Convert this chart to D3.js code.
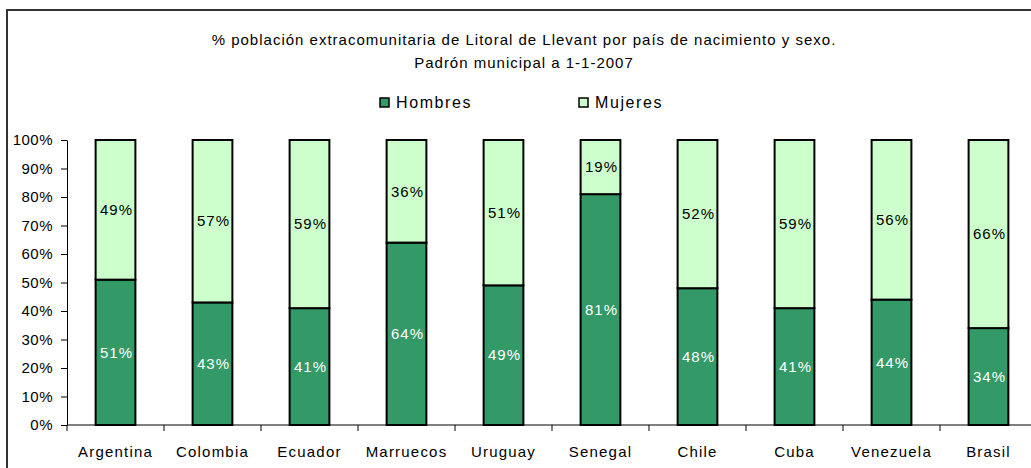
<!DOCTYPE html>
<html>
<head>
<meta charset="utf-8">
<script src="https://cdn.jsdelivr.net/npm/d3@7"></script>
<style>
  body { margin: 0; background: #fff; }
  svg { display: block; font-family: "Liberation Sans", Arial, sans-serif; }
  .axis path, .axis line { stroke: #000; }
  .lbl { font-size: 15px; letter-spacing: 1px; }
  .leg { font-size: 16px; letter-spacing: 1.6px; }
</style>
</head>
<body>
<svg id="chart" width="1031" height="468"></svg>
<script>
"use strict";

// data
const paises = ["Argentina", "Colombia", "Ecuador", "Marruecos", "Uruguay", "Senegal", "Chile", "Cuba", "Venezuela", "Brasil"];
const hombres = [51, 43, 41, 64, 49, 81, 48, 41, 44, 34];
const mujeres = [49, 57, 59, 36, 51, 19, 52, 59, 56, 66];
const yTicks = [0, 10, 20, 30, 40, 50, 60, 70, 80, 90, 100];
const series = ["Hombres", "Mujeres"];
const colores = ["#339966", "#CCFFCC"];

const svg = d3.select("#chart");

// outer frame (goes past the right / bottom edge like the original)
svg.append("rect").attr("x", 7).attr("y", 10).attr("width", 1060).attr("height", 500)
    .attr("fill", "#fff").attr("stroke", "#333").attr("stroke-width", 2);

// title
let title = svg.append("text").attr("text-anchor", "middle").attr("class", "lbl").attr("fill", "#000");
title.append("tspan").attr("x", 524).attr("y", 45).text("% población extracomunitaria de Litoral de Llevant por país de nacimiento y sexo.");
title.append("tspan").attr("x", 524).attr("y", 68).text("Padrón municipal a 1-1-2007");

// legend
let legX = [380, 579];
let legend = svg.selectAll(".legend").data(series).enter().append("g")
    .attr("transform", (d, i) => `translate(${legX[i]},98)`);
legend.append("rect").attr("width", 9).attr("height", 9)
    .attr("fill", (d, i) => colores[i]).attr("stroke", "#000").attr("stroke-width", 1.5);
legend.append("text").attr("class", "leg").attr("x", 16).attr("y", 10).text(d => d);

// scales
let mLeft = 67, mTop = 140, mBottom = 425;
let x = d3.scaleBand().domain(paises).range([mLeft, mLeft + 970]).paddingInner(0.59).paddingOuter(0.295);
let y = d3.scaleLinear().domain([0, 100]).range([mBottom, mTop]);
let step = x.step();

let data = paises.map((p, i) => ({pais: p, h: hombres[i], m: mujeres[i]}));

// bars
let g = svg.selectAll(".bar").data(data).enter().append("g").attr("class", "bar");
g.append("rect").attr("x", d => x(d.pais)).attr("width", x.bandwidth())
    .attr("y", d => y(d.h)).attr("height", d => y(0) - y(d.h))
    .attr("fill", colores[0]).attr("stroke", "#000").attr("stroke-width", 2);
g.append("rect").attr("x", d => x(d.pais)).attr("width", x.bandwidth())
    .attr("y", d => y(d.h + d.m)).attr("height", d => y(d.h) - y(d.h + d.m))
    .attr("fill", colores[1]).attr("stroke", "#000").attr("stroke-width", 2);

// value labels
g.append("text").attr("class", "lbl").attr("text-anchor", "middle").attr("fill", "#fff")
    .attr("x", d => x(d.pais) + x.bandwidth() / 2 + 1).attr("y", d => y(d.h / 2)).attr("dy", "0.35em")
    .text(d => d.h + "%");
g.append("text").attr("class", "lbl").attr("text-anchor", "middle").attr("fill", "#000")
    .attr("x", d => x(d.pais) + x.bandwidth() / 2 + 1).attr("y", d => y(d.h + d.m / 2)).attr("dy", "0.35em")
    .text(d => d.m + "%");

// y axis
let yAxis = svg.append("g").attr("class", "axis").attr("transform", `translate(${mLeft},0)`)
    .call(d3.axisLeft(y).tickValues(yTicks).tickSize(6).tickSizeOuter(0).tickPadding(8).tickFormat(d => d + "%"));
yAxis.selectAll("text").attr("class", "lbl").style("letter-spacing", "0.5px").attr("fill", "#000");

// x axis: line with ticks between categories
let xa = svg.append("g").attr("class", "axis");
xa.append("line").attr("x1", mLeft).attr("x2", 1031).attr("y1", mBottom).attr("y2", mBottom).attr("stroke", "#000");
xa.selectAll(".tk").data(d3.range(paises.length + 1)).enter().append("line")
    .attr("x1", i => mLeft + i * step).attr("x2", i => mLeft + i * step)
    .attr("y1", mBottom).attr("y2", mBottom + 6).attr("stroke", "#000");
xa.selectAll(".xl").data(paises).enter().append("text").attr("class", "lbl")
    .style("letter-spacing", "1.2px")
    .attr("text-anchor", "middle").attr("x", d => x(d) + x.bandwidth() / 2).attr("y", 457).text(d => d);
</script>
</body>
</html>
